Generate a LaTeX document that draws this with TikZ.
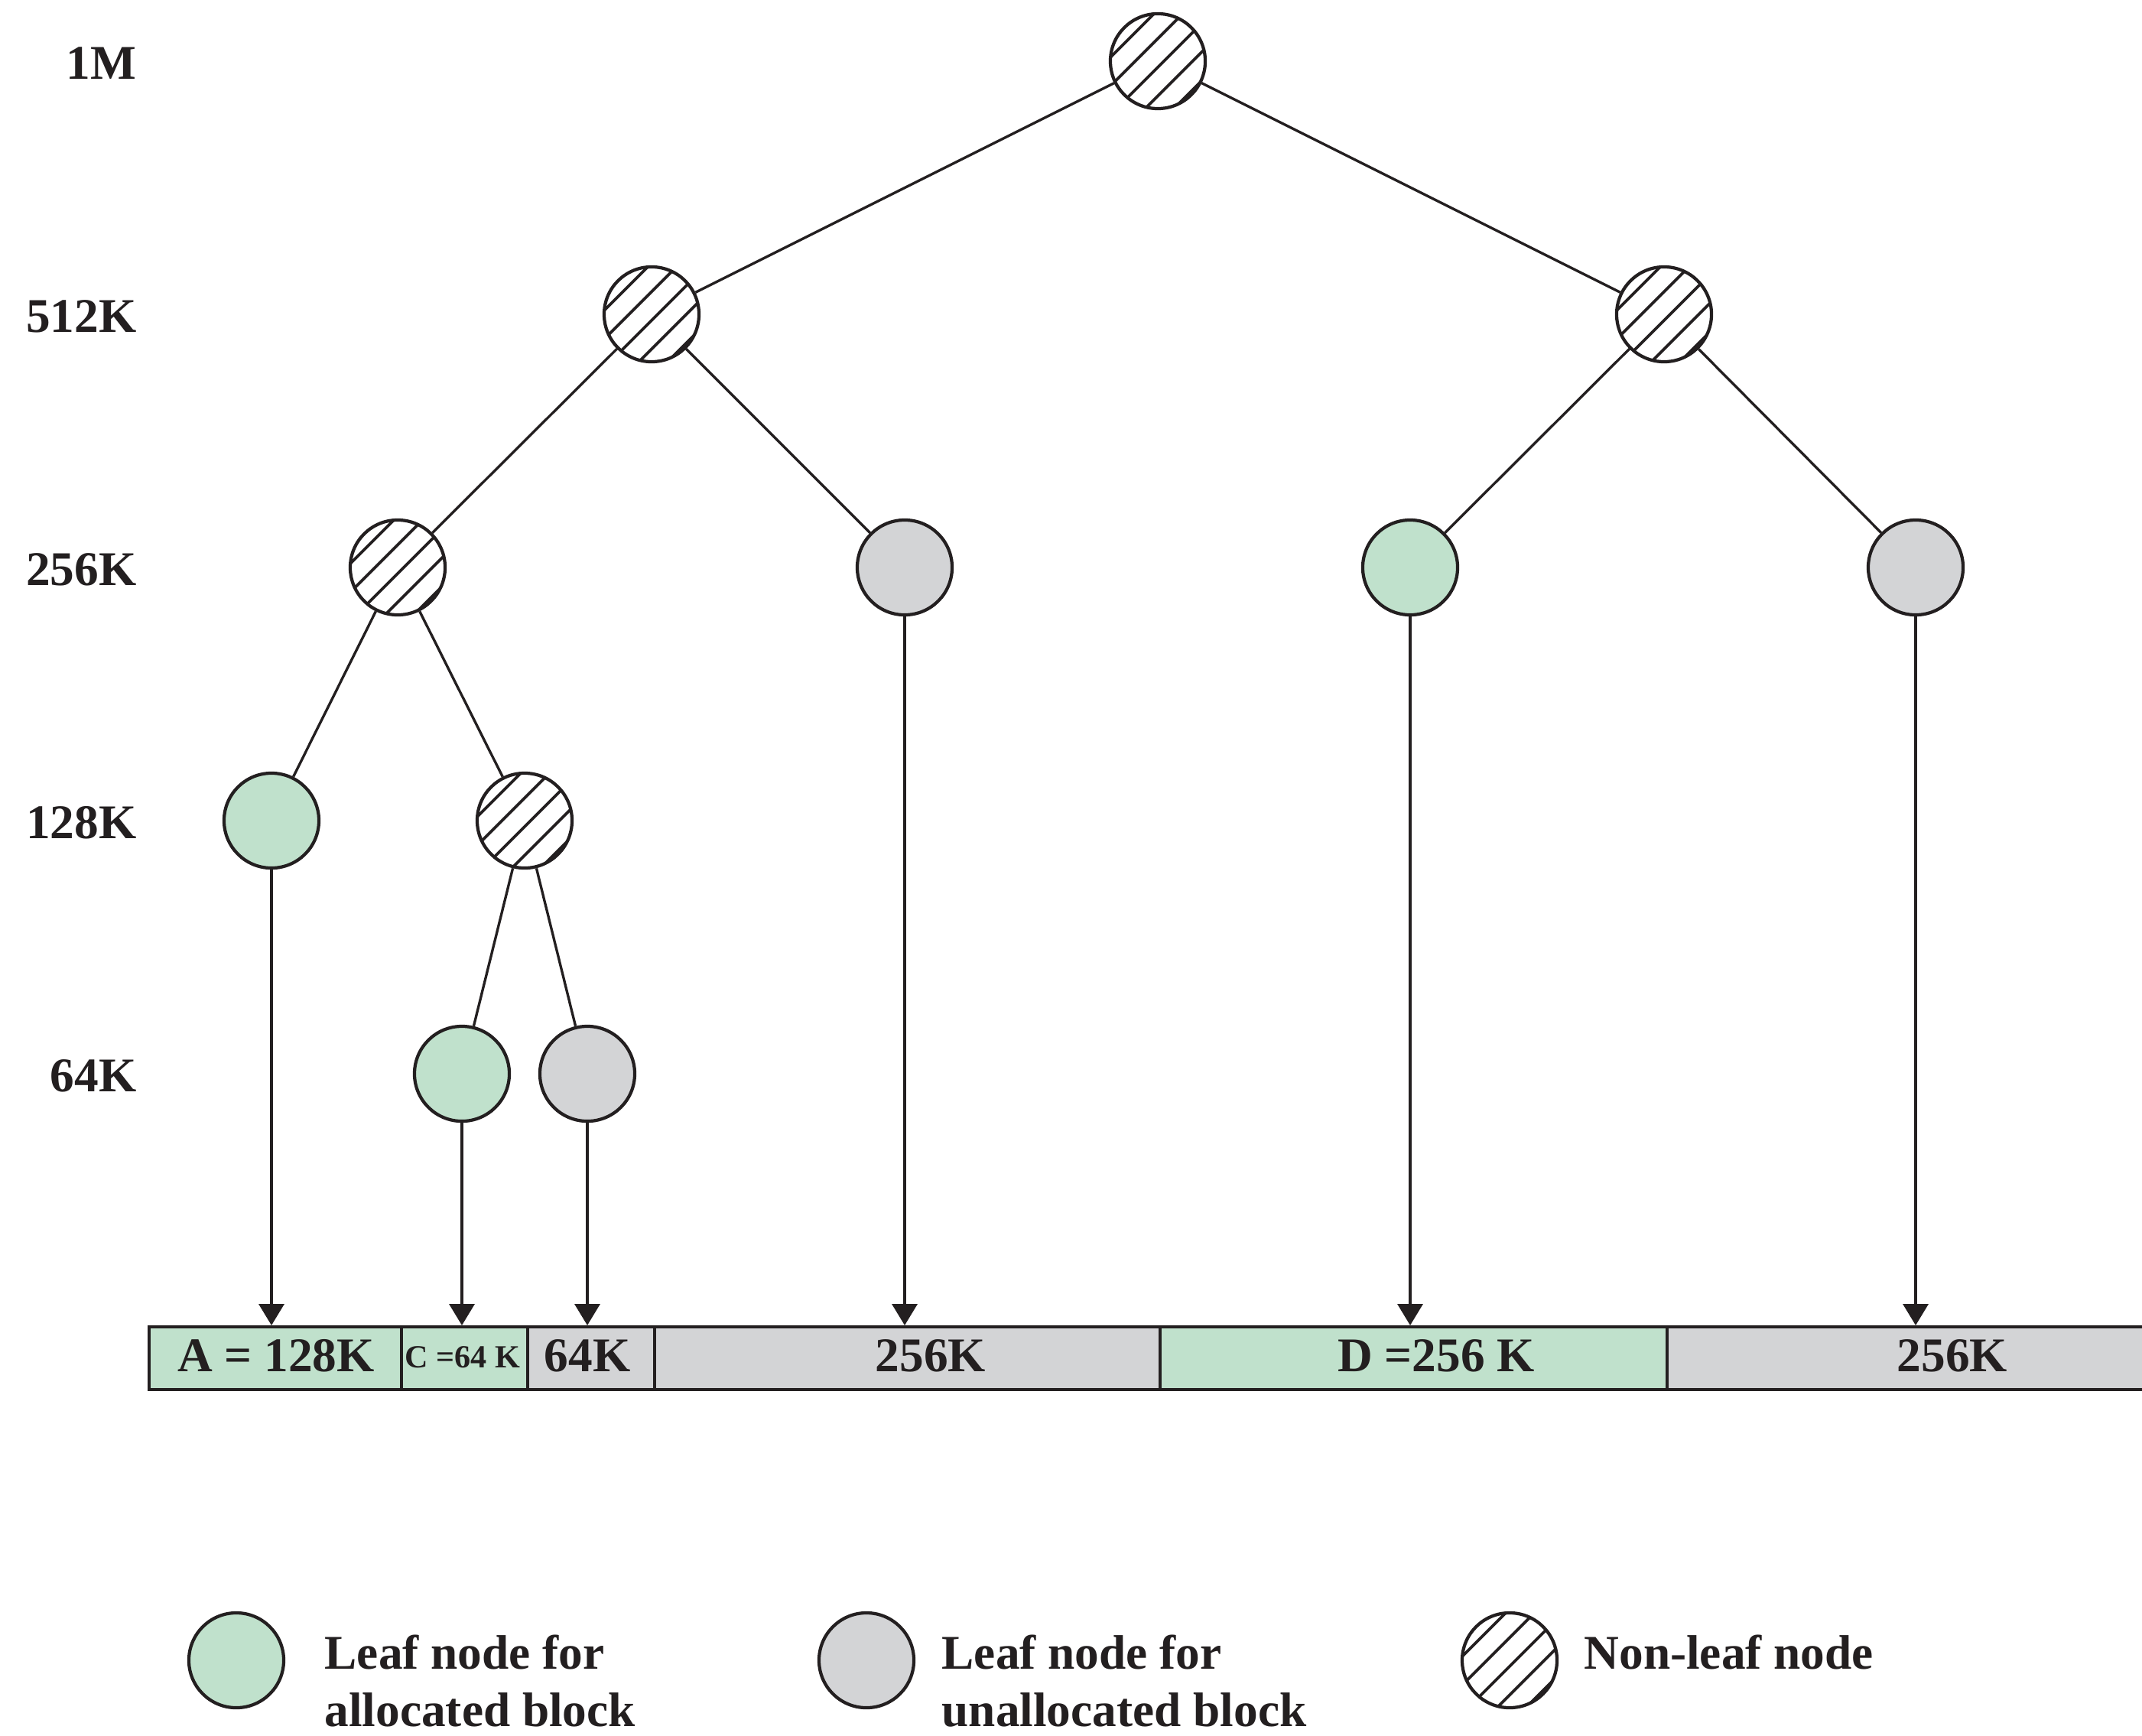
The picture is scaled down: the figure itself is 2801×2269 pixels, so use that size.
\documentclass[tikz,border=0pt]{standalone}
\usepackage{fontspec}
\setmainfont{Liberation Serif}
\usetikzlibrary{arrows.meta}

\definecolor{ink}{RGB}{35,31,32}
\definecolor{leafgreen}{RGB}{192,225,204}
\definecolor{leafgray}{RGB}{211,212,214}

\tikzset{
  basenode/.style={circle, draw=ink, line width=1.2pt, inner sep=0pt,
    minimum size=1.24cm},
  alloc/.style={basenode, fill=leafgreen},
  free/.style={basenode, fill=leafgray},
  inner/.style={basenode, fill=white,
    path picture={
      \foreach \k in {-3,...,3}{
        \draw[ink, line width=1.05pt]
          ([shift={({0.04cm+0.1875cm*(\k)-0.8cm},{-0.04cm-0.1875cm*(\k)-0.8cm})}]path picture bounding box.center)
          -- ++(1.6cm,1.6cm);
      }}},
  edge/.style={ink, line width=0.95pt},
  arr/.style={ink, line width=0.95pt, -{Triangle[length=0.28cm, width=0.33cm]}},
  seg/.style={draw=ink, line width=1.2pt, inner sep=0pt, minimum height=0.82cm,
    anchor=north west},
  txt/.style={text=ink, font=\fontsize{18}{21.6}\selectfont\bfseries, inner sep=0pt},
  small/.style={text=ink, font=\fontsize{12}{14.4}\selectfont\bfseries, inner sep=0pt},
}

\begin{document}
\begin{tikzpicture}[x=0.01cm, y=-0.01cm]
\useasboundingbox (0,0) rectangle (2801,2269);

% level labels
\node[txt, anchor=base east] (lv1) at (179,103)  {1M};
\node[txt, anchor=base east] (lv2) at (179,434)  {512K};
\node[txt, anchor=base east] (lv3) at (179,765)  {256K};
\node[txt, anchor=base east] (lv4) at (179,1096) {128K};
\node[txt, anchor=base east] (lv5) at (179,1427) {64K};

% buddy tree
\node[inner] (r) at (1514,80) {};
\node[inner] (a) at (852,411) {};
\node[inner] (b) at (2176,411) {};
\node[inner] (c) at (520,742) {};
\node[free]  (d) at (1183,742) {};
\node[alloc] (e) at (1844,742) {};
\node[free]  (f) at (2505,742) {};
\node[alloc] (g) at (355,1073) {};
\node[inner] (h) at (686,1073) {};
\node[alloc] (i) at (604,1404) {};
\node[free]  (j) at (768,1404) {};

\draw[edge] (r) -- (a);
\draw[edge] (r) -- (b);
\draw[edge] (a) -- (c);
\draw[edge] (a) -- (d);
\draw[edge] (b) -- (e);
\draw[edge] (b) -- (f);
\draw[edge] (c) -- (g);
\draw[edge] (c) -- (h);
\draw[edge] (h) -- (i);
\draw[edge] (h) -- (j);

% memory layout
\node[seg, fill=leafgreen, minimum width=3.30cm] (sA) at (193,1733) {};
\node[seg, fill=leafgreen, minimum width=1.65cm] (sC) at (523,1733) {};
\node[seg, fill=leafgray,  minimum width=1.66cm] (sE) at (688,1733) {};
\node[seg, fill=leafgray,  minimum width=6.61cm] (sF) at (854,1733) {};
\node[seg, fill=leafgreen, minimum width=6.63cm] (sD) at (1515,1733) {};
\node[seg, fill=leafgray,  minimum width=6.61cm] (sG) at (2178,1733) {};

\node[txt, anchor=base]   (tA) at (361,1793)  {A = 128K};
\node[small, anchor=base] (tC) at (605,1788)  {C =64 K};
\node[txt, anchor=base]   (tE) at (768,1793)  {64K};
\node[txt, anchor=base]   (tF) at (1217,1793) {256K};
\node[txt, anchor=base]   (tD) at (1878,1793) {D =256 K};
\node[txt, anchor=base]   (tG) at (2553,1793) {256K};

% leaves point at their blocks
\draw[arr] (g.south) -- (g.south |- sA.north);
\draw[arr] (i.south) -- (i.south |- sC.north);
\draw[arr] (j.south) -- (j.south |- sE.north);
\draw[arr] (d.south) -- (d.south |- sF.north);
\draw[arr] (e.south) -- (e.south |- sD.north);
\draw[arr] (f.south) -- (f.south |- sG.north);

% legend
\node[alloc] (kA) at (309,2171) {};
\node[free]  (kF) at (1133,2171) {};
\node[inner] (kN) at (1974,2171) {};
\node[txt, anchor=base west] (kA1) at (424,2182)  {Leaf node for};
\node[txt, anchor=base west] (kA2) at (424,2257)  {allocated block};
\node[txt, anchor=base west] (kF1) at (1231,2182) {Leaf node for};
\node[txt, anchor=base west] (kF2) at (1231,2257) {unallocated block};
\node[txt, anchor=base west] (kN1) at (2071,2182) {Non-leaf node};
\end{tikzpicture}
\end{document}
